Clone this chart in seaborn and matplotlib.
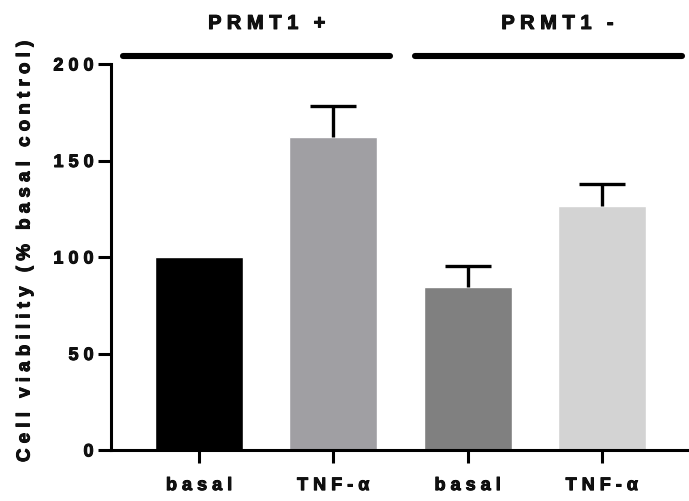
import matplotlib
matplotlib.use("Agg")
import matplotlib.pyplot as plt
import matplotlib.patheffects as pe
import seaborn as sns
import pandas as pd

# Data
conditions = ["basal", "TNF-\u03b1", "basal", "TNF-\u03b1"]
groups = ["PRMT1 +", "PRMT1 -"]
viability = [100.0, 162.0, 84.5, 126.5]
sem_upper = [0.0, 16.0, 11.0, 11.5]
bar_colors = ["#000000", "#A09FA3", "#808080", "#D3D3D3"]
y_ticks = [0, 50, 100, 150, 200]

sns.set_theme(style="white")
plt.rcParams["font.family"] = ["Liberation Sans", "DejaVu Sans"]
plt.rcParams["font.weight"] = "bold"

heavy = [pe.withStroke(linewidth=0.7, foreground="black")]


def spaced(s, gap=" "):
    # letter-spaced text; word breaks get a slightly wider gap
    return gap.join(s.replace(" ", "\u2009"))


keys = [f"c{i}" for i in range(len(conditions))]
df = pd.DataFrame({"key": keys, "value": viability})

fig = plt.figure(figsize=(6.89, 5.02), dpi=100)
ax = fig.add_axes([111 / 689, 51 / 502, 578 / 689, 386 / 502])

sns.barplot(data=df, x="key", y="value", hue="key", order=keys,
            palette=dict(zip(keys, bar_colors)), width=0.655,
            saturation=1, legend=False, errorbar=None, ax=ax)

# Upper error bars only (stem + cap)
cap_half = 0.171
for i, (v, e) in enumerate(zip(viability, sem_upper)):
    if e > 0:
        ax.vlines(i, v, v + e, colors="black", lw=2.4, zorder=3)
        ax.hlines(v + e, i - cap_half, i + cap_half, colors="black",
                  lw=2.4, zorder=3)

ax.set_xlim(-0.655, 3.649)
ax.set_ylim(0, 200)
ax.set_yticks(y_ticks)
ax.set_yticklabels([spaced(str(t)) for t in y_ticks], fontsize=13,
                   fontweight="bold")
ax.set_xticks(range(len(conditions)))
ax.set_xticklabels([spaced(c) for c in conditions], fontsize=13,
                   fontweight="bold")
for lbl in ax.get_xticklabels() + ax.get_yticklabels():
    lbl.set_path_effects(heavy)
    lbl.set_color("#111111")
ax.set_xlabel("")
ax.set_ylabel("")

for side in ["top", "right"]:
    ax.spines[side].set_visible(False)
for side in ["left", "bottom"]:
    ax.spines[side].set_linewidth(2.2)
    ax.spines[side].set_color("black")
ax.tick_params(axis="both", which="major", length=9.5, width=2.2,
               color="black", direction="out", left=True, bottom=True)
ax.tick_params(axis="y", pad=3)
ax.tick_params(axis="x", pad=10)

# Group bars and labels above the plot
spans = [(-0.566, 1.42), (1.61, 3.60)]
label_x = [0.506, 2.67]
for (x0, x1), lx, g in zip(spans, label_x, groups):
    ax.plot([x0, x1], [204, 204], color="black", lw=4.4,
            solid_capstyle="round", clip_on=False)
    ax.text(lx, 221, spaced(g), ha="center", va="center", fontsize=14.5,
            fontweight="bold", color="#111111", clip_on=False,
            path_effects=heavy)

fig.text(25 / 689, (502 - 252) / 502,
         spaced("Cell viability (% basal control)"),
         rotation=90, ha="center", va="center", fontsize=13.5,
         fontweight="bold", color="#111111", path_effects=heavy)

fig.savefig("out.png", dpi=100)
